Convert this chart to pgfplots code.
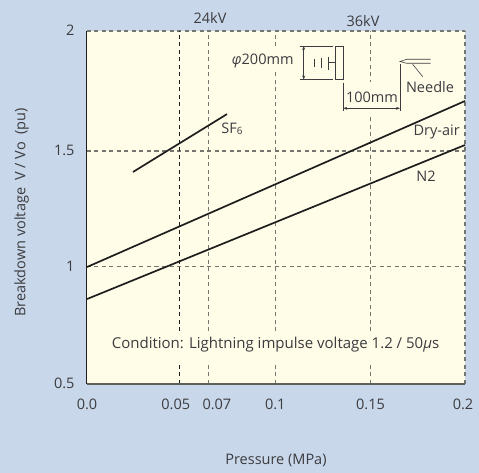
\documentclass[border=0pt]{standalone}
\usepackage{fontspec}
\setmainfont{Open Sans}
\usepackage{pgfplots}
\pgfplotsset{compat=1.18}
\usetikzlibrary{arrows.meta}
\definecolor{bgblue}{HTML}{C8D7E9}
\definecolor{plotbg}{HTML}{FFFCE8}
\definecolor{txt}{HTML}{3C3C40}
\definecolor{gridg}{HTML}{767670}
\definecolor{linek}{HTML}{1E1E1E}
\begin{document}
\begin{tikzpicture}[x=1pt,y=1pt]
\fill[bgblue] (-87,-89) rectangle (392,384);
\useasboundingbox (-87,-89) rectangle (392,384);
\begin{axis}[
  at={(0pt,0pt)},anchor=south west,
  scale only axis,width=378pt,height=353pt,
  xmin=0,xmax=0.2,ymin=0.5,ymax=2,
  clip=false,
  axis line style={draw=none},
  axis background/.style={fill=plotbg},
  major tick length=0pt,
  xtick={0,0.0488,0.0645,0.0996,0.15,0.2},
  xticklabels={0.0,{0.05\hspace*{7pt}},{\hspace*{16pt}0.07},0.1,0.15,{0.2\hspace*{4pt}}},
  ytick={0.5,0.9985,1.490,2},
  yticklabels={0.5,1,1.5,2},
  /pgf/number format/assume math mode=true,
  tick label style={font=\fontsize{14.5}{16}\selectfont,text=txt},
  xticklabel style={yshift=-11pt},
  yticklabel style={xshift=-9pt,yshift=0.5pt},
]
\addplot[gridg,line width=1.1pt,dash pattern=on 4pt off 3.5pt] coordinates {(0,1.490) (0.2,1.490)};
\addplot[gridg,line width=1.1pt,dash pattern=on 4pt off 3.5pt] coordinates {(0,0.9985) (0.2,0.9985)};
\addplot[gridg,line width=1.1pt,dash pattern=on 4pt off 3.5pt] coordinates {(0,2) (0.2,2)};
\addplot[gridg,line width=1.1pt,dash pattern=on 4pt off 3.5pt] coordinates {(0.2,0.5) (0.2,2)};
\addplot[gridg,line width=1.1pt,dash pattern=on 4pt off 3.5pt] coordinates {(0.0645,0.5) (0.0645,2)};
\addplot[gridg,line width=1.1pt,dash pattern=on 4pt off 3.5pt] coordinates {(0.0996,0.5) (0.0996,2)};
\addplot[gridg,line width=1.1pt,dash pattern=on 4pt off 3.5pt] coordinates {(0.15,0.5) (0.15,2)};
\addplot[linek,line width=0.8pt,dash pattern=on 4pt off 3.5pt] coordinates {(0.0488,0.5) (0.0488,2)};
\addplot[linek,line width=1pt] coordinates {(0,0.5) (0,2)};
\addplot[gridg!80!black,line width=1.2pt] coordinates {(0,0.5) (0.2,0.5)};
\addplot[linek,line width=1.7pt] coordinates {(0,0.997) (0.2,1.7025)};
\addplot[linek,line width=1.7pt] coordinates {(0,0.861) (0.2,1.5156)};
\addplot[linek,line width=1.7pt] coordinates {(0.0243,1.4008) (0.0741,1.647)};
\end{axis}
\begin{scope}[shift={(-87pt,384pt)},y=-1pt,font=\fontsize{14.5}{16}\selectfont,text=txt]
\fill[plotbg] (100,331) rectangle (450,364);
\fill[plotbg] (350,82) rectangle (395,115);
\fill[plotbg] (225,48) rectangle (295,72);
\node at (210,18) {24kV};
\node at (363,21) {36kV};
\node at (262.7,61) {\textit{φ}200mm};
\node at (372,97) {100mm};
\node at (430,87) {Needle};
\node at (436.7,131.7) {Dry-air};
\node at (426,176) {N2};
\node at (232,129) {SF{\fontsize{10}{11}\selectfont\raisebox{-1pt}{6}}};
\node[font=\fontsize{15}{17}\selectfont] at (275.5,345) {Condition: Lightning impulse voltage 1.2 / 50\textit{μ}s};
\node at (276,460) {Pressure (MPa)};
\node[rotate=90] at (21.5,212.5) {Breakdown voltage\enspace V / Vo\enspace (pu)};
\draw[txt,line width=0.6pt] (335.7,46) rectangle (343.3,79.3);
\draw[txt,line width=0.6pt] (299.5,46) -- (333,46) (299.5,79.5) -- (333,79.5);
\draw[txt,line width=0.6pt,{Stealth[length=4pt,width=3pt]}-{Stealth[length=4pt,width=3pt]}] (303.7,46) -- (303.7,79.5);
\draw[txt,line width=0.6pt] (314.3,59.3) -- (314.3,66.7) (321,58.3) -- (321,67.7) (328.3,56.7) -- (328.3,70) (328.3,62.7) -- (335.7,62.7);
\draw[txt,line width=0.6pt] (430.7,59.3) -- (406.7,59.3) -- (400,61.5) -- (406.7,63.3) -- (430.7,63.3);
\draw[txt,line width=0.6pt] (412.7,64.3) -- (422.7,76.7);
\draw[txt,line width=0.6pt] (400,64) -- (400,110.7) (343.3,82.7) -- (343.3,110.7);
\draw[txt,line width=0.6pt,{Stealth[length=4pt,width=3pt]}-{Stealth[length=4pt,width=3pt]}] (343.3,108.3) -- (400,108.3);
\end{scope}
\end{tikzpicture}
\end{document}
